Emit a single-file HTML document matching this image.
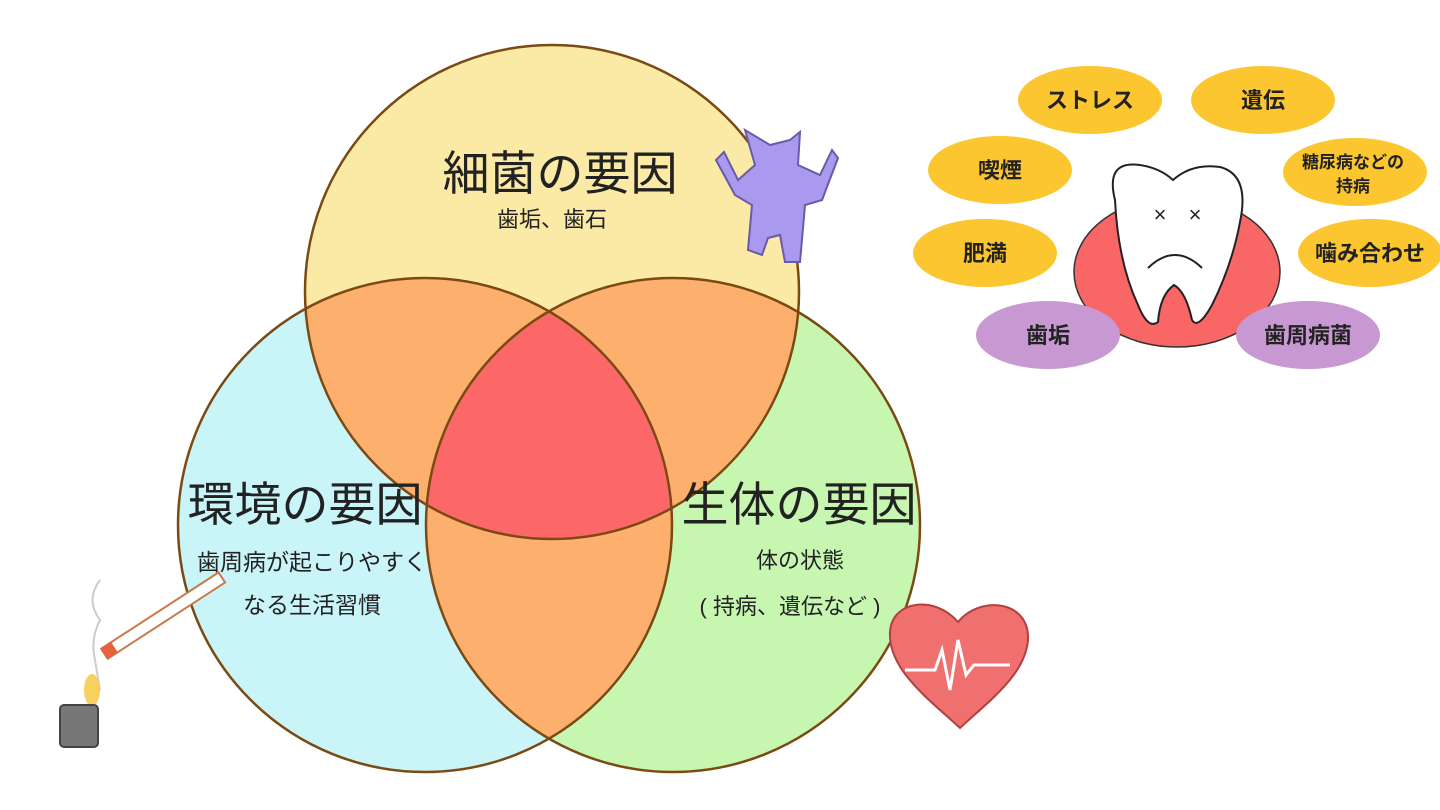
<!DOCTYPE html>
<html><head><meta charset="utf-8"><style>
html,body{margin:0;padding:0;background:#fff;}
svg{display:block;}
text{font-family:"Liberation Sans","Noto Sans CJK JP",sans-serif;fill:#222;}
</style></head><body>
<svg width="1440" height="810" viewBox="0 0 1440 810" xmlns="http://www.w3.org/2000/svg">
<defs>
<clipPath id="cT"><circle cx="552" cy="292" r="247"/></clipPath>
<clipPath id="cL"><circle cx="425" cy="525" r="247"/></clipPath>
<clipPath id="cR"><circle cx="673" cy="525" r="247"/></clipPath>
</defs>
<rect width="1440" height="810" fill="#fff"/>
<circle cx="552" cy="292" r="247" fill="#faeaa6"/>
<circle cx="425" cy="525" r="247" fill="#c9f4f8"/>
<circle cx="673" cy="525" r="247" fill="#c7f6b1"/>
<g fill="#fdb06d">
<circle cx="425" cy="525" r="247" clip-path="url(#cT)"/>
<circle cx="673" cy="525" r="247" clip-path="url(#cT)"/>
<circle cx="673" cy="525" r="247" clip-path="url(#cL)"/>
</g>
<g clip-path="url(#cT)"><circle cx="673" cy="525" r="247" fill="#fb6867" clip-path="url(#cL)"/></g>
<g fill="none" stroke="#7b4a12" stroke-width="2.5">
<circle cx="552" cy="292" r="247"/>
<circle cx="425" cy="525" r="247"/>
<circle cx="673" cy="525" r="247"/>
</g>
<text x="560" y="190" font-size="47" text-anchor="middle">細菌の要因</text>
<text x="552" y="227" font-size="22" text-anchor="middle">歯垢、歯石</text>
<text x="305" y="521" font-size="47" text-anchor="middle">環境の要因</text>
<text x="312" y="570" font-size="23" text-anchor="middle">歯周病が起こりやすく</text>
<text x="312" y="613" font-size="23" text-anchor="middle">なる生活習慣</text>
<text x="799" y="521" font-size="47" text-anchor="middle">生体の要因</text>
<text x="800" y="568" font-size="22" text-anchor="middle">体の状態</text>
<text x="790" y="614" font-size="22" text-anchor="middle">( 持病、遺伝など )</text>

<!-- monster -->
<g fill="#a99af0" stroke="#6a5aa8" stroke-width="2">
<path d="M755 165 L745 130 L770 145 L790 140 L800 132 L798 165 L820 175 L832 150 L838 158 L822 200 L805 205 L800 262 L785 262 L780 235 L768 238 L762 255 L748 250 L752 205 L735 195 L716 160 L724 152 L738 180 Z"/>
</g>
<!-- heart -->
<path d="M960 728 C930 700 888 670 890 632 C892 600 935 595 958 622 C980 595 1030 600 1028 640 C1025 675 990 700 960 728 Z" fill="#f07070" stroke="#b04040" stroke-width="2"/>
<polyline points="905,670 935,670 942,650 950,690 958,640 966,675 974,665 1010,665" fill="none" stroke="#fff" stroke-width="3"/>
<!-- cigarette -->
<g transform="rotate(-33 160 620)">
<rect x="95" y="612" width="140" height="12" fill="#fff" stroke="#c87a4a" stroke-width="2"/>
<rect x="95" y="612" width="12" height="12" fill="#e86040"/>
</g>
<path d="M100 690 L95 660 Q90 640 100 620 Q85 600 100 580" fill="none" stroke="#ccc" stroke-width="2"/>
<ellipse cx="92" cy="690" rx="8" ry="16" fill="#f8d060"/>
<rect x="60" y="705" width="38" height="42" rx="4" fill="#777" stroke="#444" stroke-width="2"/>

<!-- right illustration -->
<ellipse cx="1177" cy="272" rx="103" ry="75" fill="#f96666" stroke="#333" stroke-width="1.5"/>
<path d="M1115 200 Q1105 160 1140 165 Q1160 168 1173 180 Q1192 163 1220 167 Q1250 175 1240 222 Q1232 265 1212 305 Q1198 330 1192 320 Q1186 292 1174 285 Q1160 295 1158 322 Q1148 330 1138 305 Q1118 262 1115 200 Z" fill="#fff" stroke="#222" stroke-width="2"/>
<text x="1160" y="222" font-size="22" text-anchor="middle">×</text><text x="1195" y="222" font-size="22" text-anchor="middle">×</text>
<path d="M1148 268 Q1175 242 1202 268" fill="none" stroke="#222" stroke-width="2"/>
<g font-size="22" text-anchor="middle" font-weight="bold">
<ellipse cx="1090" cy="100" rx="72" ry="34" fill="#fcc631"/><text x="1090" y="108">ストレス</text>
<ellipse cx="1263" cy="100" rx="72" ry="34" fill="#fcc631"/><text x="1263" y="108">遺伝</text>
<ellipse cx="1000" cy="170" rx="72" ry="34" fill="#fcc631"/><text x="1000" y="178">喫煙</text>
<ellipse cx="1355" cy="172" rx="72" ry="34" fill="#fcc631"/>
<text x="1353" y="168" font-size="17">糖尿病などの</text><text x="1353" y="192" font-size="17">持病</text>
<ellipse cx="985" cy="253" rx="72" ry="34" fill="#fcc631"/><text x="985" y="261">肥満</text>
<ellipse cx="1370" cy="253" rx="72" ry="34" fill="#fcc631"/><text x="1370" y="261">噛み合わせ</text>
<ellipse cx="1048" cy="335" rx="72" ry="34" fill="#c898d2"/><text x="1048" y="343">歯垢</text>
<ellipse cx="1308" cy="335" rx="72" ry="34" fill="#c898d2"/><text x="1308" y="343">歯周病菌</text>
</g>
</svg>
</body></html>
